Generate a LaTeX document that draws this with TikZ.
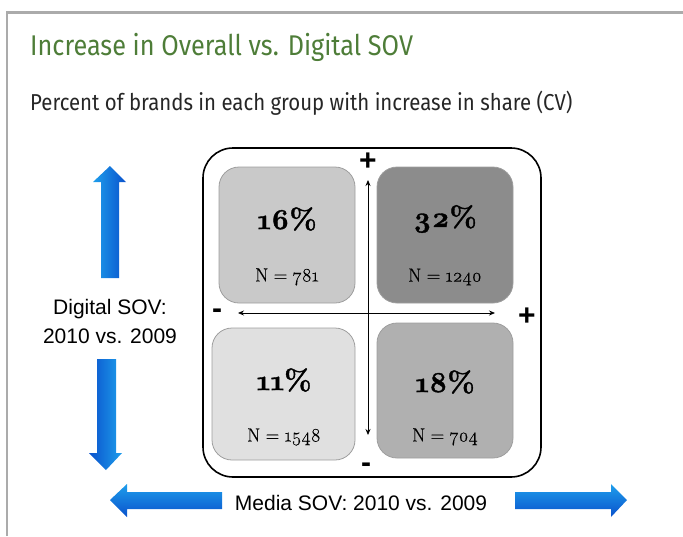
\documentclass[tikz,border=0pt]{standalone}
\usepackage{fontspec}
\setmainfont{Liberation Sans}
\newfontfamily\lightfont[FakeStretch=0.886]{Fira Sans}
\newfontfamily\numfont[Numbers=OldStyle, BoldFeatures={FakeBold=1.3}]{Latin Modern Roman}
\newfontfamily\cntfont[Numbers=OldStyle, FakeBold=0.5]{Latin Modern Roman}
\usetikzlibrary{arrows.meta}

\definecolor{framegray}{HTML}{ABABAB}
\definecolor{titlegreen}{HTML}{4E7D38}
\definecolor{blueA}{HTML}{1E9EEC}
\definecolor{blueB}{HTML}{0A52CC}

\newcommand{\eqsp}{\hspace{0.28em}}

\tikzset{
  quad/.style={draw=black!38, line width=0.8pt, rounded corners=20pt, inner sep=0pt},
  pct/.style={font=\numfont\bfseries\fontsize{29}{30}\selectfont},
  count/.style={font=\cntfont\fontsize{19}{21}\selectfont},
  sign/.style={font=\bfseries\fontsize{30}{30}\selectfont, inner sep=0pt},
  axislabel/.style={font=\fontsize{21}{29}\selectfont, align=center},
  axis/.style={line width=0.8pt, {Stealth[length=6pt,width=5pt]}-{Stealth[length=6pt,width=5pt]}},
}

\begin{document}
\begin{tikzpicture}[x=1pt,y=-1pt]
\useasboundingbox (0,0) rectangle (683,536);

% slide frame (open towards right and bottom)
\draw[framegray, line width=2.5pt] (7,536) -- (7,12.5) -- (683,12.5);

% headings
\node[anchor=base west, inner sep=0pt, text=titlegreen, font=\lightfont\fontsize{28.5}{32}\selectfont] (title) at (30,55) {Increase in Overall vs. Digital SOV};
\node[anchor=base west, inner sep=0pt, text=black!85, font=\lightfont\fontsize{23}{26}\selectfont] (subtitle) at (30,110) {Percent of brands in each group with increase in share (CV)};

% outer frame of the matrix
\draw[black, line width=1.6pt, rounded corners=30pt] (203,148) rectangle (541,477);

% quadrants
\node[quad, fill=black!21, minimum width=136pt, minimum height=136pt] (q16) at (287,235) {};
\node[quad, fill=black!45, minimum width=136pt, minimum height=136pt] (q32) at (445,235) {};
\node[quad, fill=black!12, minimum width=143pt, minimum height=132pt] (q11) at (283.5,394) {};
\node[quad, fill=black!31, minimum width=136pt, minimum height=135pt] (q18) at (445,390.5) {};

\node[pct] (p16) at (287,219) {16\%};
\node[count] (n16) at (287,277) {N\eqsp=\eqsp781};
\node[pct] (p32) at (445,219) {32\%};
\node[count] (n32) at (445,277) {N\eqsp=\eqsp1240};
\node[pct] (p11) at (284,380) {11\%};
\node[count] (n11) at (284,437) {N\eqsp=\eqsp1548};
\node[pct] (p18) at (445,382) {18\%};
\node[count] (n18) at (445,437) {N\eqsp=\eqsp704};

% axes
\coordinate (vtop) at (368,180);
\coordinate (vbot) at (368,435);
\coordinate (hleft) at (238,313);
\coordinate (hright) at (495,313);
\draw[axis] (vbot) -- (vtop);
\draw[axis] (hleft) -- (hright);

\node[sign] (vplus) at (368,162) {+};
\node[sign] (vminus) at (366,468) {-};
\node[sign] (hminus) at (217,314) {-};
\node[sign] (hplus) at (527,317) {+};

% axis captions
\node[axislabel] (dig) at (110,321) {Digital SOV:\\2010 vs. 2009};
\node[axislabel, anchor=base] (med) at (361,510) {Media SOV: 2010 vs. 2009};

% blue block arrows
\shade[left color=blueA, right color=blueB]
  (101,278) -- (101,182) -- (93,182) -- (110,166) -- (126,182) -- (119,182) -- (119,278) -- cycle;
\shade[left color=blueB, right color=blueA]
  (97,359) -- (97,453) -- (89,453) -- (106,470) -- (122,453) -- (116,453) -- (116,359) -- cycle;
\shade[top color=blueA, bottom color=blueB]
  (222,492) -- (127,492) -- (127,484) -- (110,500) -- (127,517) -- (127,509) -- (222,509) -- cycle;
\shade[top color=blueA, bottom color=blueB]
  (515,492) -- (611,492) -- (611,484) -- (627,500) -- (611,517) -- (611,509) -- (515,509) -- cycle;
\end{tikzpicture}
\end{document}
